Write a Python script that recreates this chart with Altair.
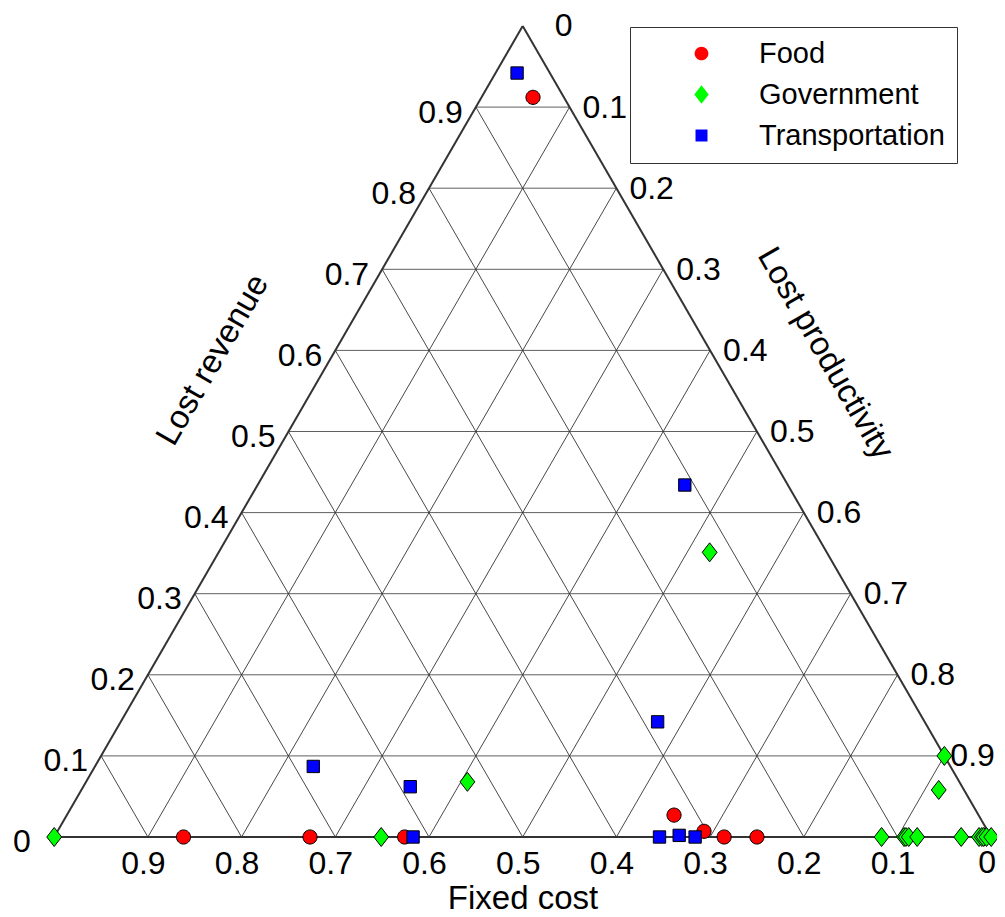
import altair as alt
import pandas as pd

# ---------------- data (ternary fractions: fixed cost, lost revenue, lost productivity)
series_names = ["Food", "Government", "Transportation"]

food_fixed = [0.033, 0.862, 0.727, 0.626, 0.325, 0.303, 0.285, 0.250]
food_revenue = [0.912, 0.0, 0.0, 0.0, 0.027, 0.007, 0.0, 0.0]
food_productivity = [0.055, 0.138, 0.273, 0.374, 0.648, 0.690, 0.715, 0.750]

gov_fixed = [1.0, 0.651, 0.525, 0.125, 0.117, 0.093, 0.091, 0.088, 0.079,
             0.0, 0.027, 0.032, 0.013, 0.010, 0.008, 0.005, 0.0]
gov_revenue = [0.0, 0.0, 0.068, 0.351, 0.0, 0.0, 0.0, 0.0, 0.0,
               0.100, 0.058, 0.0, 0.0, 0.0, 0.0, 0.0, 0.0]
gov_productivity = [0.0, 0.349, 0.407, 0.524, 0.883, 0.907, 0.909, 0.912, 0.921,
                    0.900, 0.915, 0.968, 0.987, 0.990, 0.992, 0.995, 1.0]

trans_fixed = [0.035, 0.110, 0.285, 0.680, 0.589, 0.617, 0.354, 0.332, 0.316]
trans_revenue = [0.942, 0.434, 0.142, 0.087, 0.062, 0.0, 0.0, 0.002, 0.0]
trans_productivity = [0.023, 0.456, 0.573, 0.233, 0.349, 0.383, 0.646, 0.666, 0.684]

tick_values = [0.1, 0.2, 0.3, 0.4, 0.5, 0.6, 0.7, 0.8, 0.9]

axis_titles = ["Fixed cost", "Lost revenue", "Lost productivity"]

# ---------------- tables
rows = []
for name, fx, rv, pr in [
    ("Food", food_fixed, food_revenue, food_productivity),
    ("Government", gov_fixed, gov_revenue, gov_productivity),
    ("Transportation", trans_fixed, trans_revenue, trans_productivity),
]:
    for a, b, c in zip(fx, rv, pr):
        rows.append({"series": name, "fixed": a, "revenue": b, "productivity": c})
points = pd.DataFrame(rows)

grid_h = pd.DataFrame({"x": [c / 2 for c in tick_values], "y": tick_values,
                       "x2": [1 - c / 2 for c in tick_values], "y2": tick_values})
grid_d = pd.DataFrame(
    {"x": [1 - c for c in tick_values] + tick_values,
     "y": [0.0] * 18,
     "x2": [(1 - c) / 2 for c in tick_values] + [(1 + c) / 2 for c in tick_values],
     "y2": [1 - c for c in tick_values] * 2})
outline = pd.DataFrame({"x": [0.0, 0.0, 1.0], "y": [0.0, 0.0, 0.0],
                        "x2": [1.0, 0.5, 0.5], "y2": [0.0, 1.0, 1.0]})


def lab(c):
    return f"{c:g}"


bottom_lab = pd.DataFrame({"x": [1 - c for c in tick_values], "y": [0.0] * 9,
                           "t": [lab(c) for c in tick_values]})
left_lab = pd.DataFrame({"x": [c / 2 for c in tick_values], "y": tick_values,
                         "t": [lab(c) for c in tick_values]})
right_vals = tick_values[:-1]
right_lab = pd.DataFrame({"x": [(1 + c) / 2 for c in right_vals], "y": [1 - c for c in right_vals],
                          "t": [lab(c) for c in right_vals]})
right_last = pd.DataFrame({"x": [(1 + tick_values[-1]) / 2], "y": [1 - tick_values[-1]],
                           "t": [lab(tick_values[-1])]})
zero_bottom = pd.DataFrame({"x": [1.0], "y": [0.0], "t": ["0"]})
zero_left = pd.DataFrame({"x": [0.0], "y": [0.0], "t": ["0"]})
zero_top = pd.DataFrame({"x": [0.5], "y": [1.0], "t": ["0"]})

FONT = "Liberation Sans"
XS = alt.Scale(domain=[0, 1], nice=False, zero=False)
YS = alt.Scale(domain=[0, 1], nice=False, zero=False)


def xy():
    return dict(x=alt.X("x:Q", scale=XS, axis=None),
                y=alt.Y("y:Q", scale=YS, axis=None))


def rules(df, color, width):
    return alt.Chart(df).mark_rule(color=color, strokeWidth=width).encode(
        **xy(), x2="x2:Q", y2="y2:Q")


def labels(df, align, dx, dy):
    return alt.Chart(df).mark_text(align=align, baseline="alphabetic", dx=dx, dy=dy,
                                   font=FONT, fontSize=32, color="black").encode(
        **xy(), text="t:N")


grid_layer = rules(grid_h, "#606060", 1) + rules(grid_d, "#333333", 0.9)
outline_layer = rules(outline, "#333333", 2)

label_layer = (labels(bottom_lab, "center", -4.5, 37) +
               labels(zero_bottom, "center", -4, 36) +
               labels(left_lab, "right", -13, 15.5) +
               labels(zero_left, "right", -23.5, 14.5) +
               labels(right_lab, "left", 13, 10.5) +
               labels(right_last, "left", 6, 10.5) +
               labels(zero_top, "left", 32, 10))


def title(text, px, py, angle):
    return alt.Chart(pd.DataFrame({"t": [text]})).mark_text(
        font=FONT, fontSize=33, color="black", align="center", baseline="middle",
        angle=angle).encode(x=alt.value(px), y=alt.value(py), text="t:N")


title_layer = (
    alt.Chart(pd.DataFrame({"t": [axis_titles[0]]})).mark_text(
        font=FONT, fontSize=33, color="black", align="center", baseline="alphabetic"
    ).encode(x=alt.value(468.8), y=alt.value(883), text="t:N")
    + title(axis_titles[1], 158.5, 334, 300)
    + title(axis_titles[2], 771, 327.5, 60)
)

circle_path = "M0.745,0A0.745,0.745 0 1,1 -0.745,0A0.745,0.745 0 1,1 0.745,0Z"
diamond_path = "M0,-1L0.78,0L0,1L-0.78,0Z"
square_path = "M-0.65,-0.65L0.65,-0.65L0.65,0.65L-0.65,0.65Z"

leg = alt.Legend(title=None, orient="none", legendX=575.8, legendY=1,
                 padding=12, strokeColor="#333333", fillColor="white",
                 symbolOffset=45, labelOffset=43, rowPadding=11,
                 labelFontSize=29, labelFont=FONT, labelColor="black", labelLimit=500,
                 symbolSize=340, symbolStrokeColor="black", symbolStrokeWidth=1)

point_layer = alt.Chart(points).transform_calculate(
    X="datum.productivity + datum.revenue / 2"
).mark_point(filled=True, size=361, stroke="black", strokeWidth=1, opacity=1).encode(
    x=alt.X("X:Q", scale=XS, axis=None),
    y=alt.Y("revenue:Q", scale=YS, axis=None),
    fill=alt.Fill("series:N", scale=alt.Scale(domain=series_names,
                                              range=["#ff0000", "#00ff00", "#0000ff"]),
                  legend=leg),
    shape=alt.Shape("series:N", scale=alt.Scale(domain=series_names,
                                                range=[circle_path, diamond_path, square_path]),
                    legend=leg),
    order=alt.Order("series:N"),
)

chart = alt.layer(grid_layer, outline_layer, label_layer, title_layer, point_layer).properties(
    width=937, height=811,
    padding={"left": 46.2, "top": 18, "right": 5.8, "bottom": 80},
    autosize=alt.AutoSizeParams(type="none"),
    background="white",
).configure_view(strokeOpacity=0)

chart.save("out.html", embed_options={"renderer": "svg", "actions": False})
